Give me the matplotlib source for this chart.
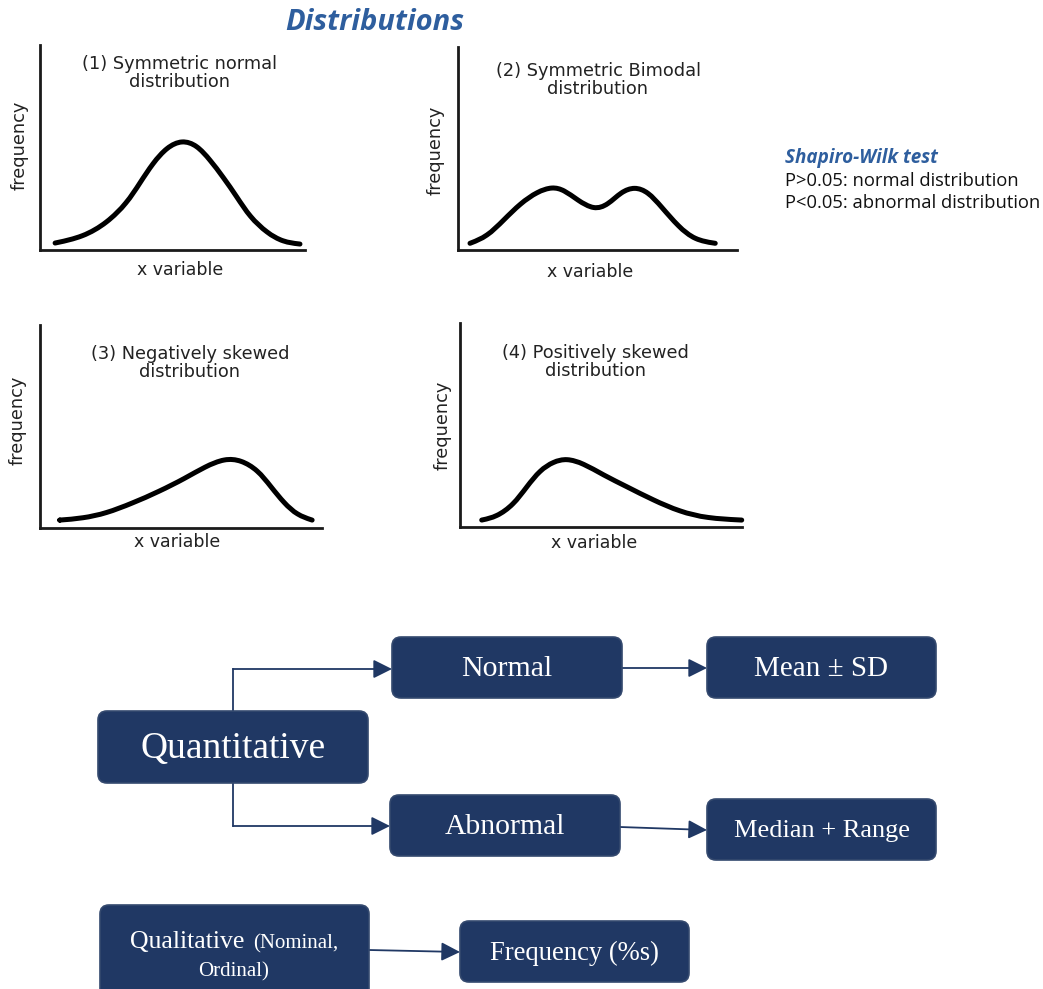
import matplotlib
matplotlib.use("Agg")
import matplotlib.pyplot as plt
import numpy as np
from matplotlib.patches import FancyBboxPatch, PathPatch
from matplotlib.path import Path

# ---------------- data ----------------
panel_titles = ["(1) Symmetric normal\ndistribution",
                "(2) Symmetric Bimodal\ndistribution",
                "(3) Negatively skewed\ndistribution",
                "(4) Positively skewed\ndistribution"]
x_label = "x variable"
y_label = "frequency"

normal_x = [0.57, 1.62, 2.53, 3.28, 3.77, 4.26, 4.79, 5.36, 5.92, 6.42, 6.91, 7.43, 7.92, 8.57, 9.17, 9.81]
normal_y = [0.34, 0.63, 1.32, 2.29, 3.27, 4.24, 5.02, 5.37, 5.12, 4.39, 3.56, 2.59, 1.61, 0.83, 0.39, 0.29]

bimodal_x = [0.43, 1.04, 1.64, 2.24, 2.84, 3.38, 3.80, 4.28, 4.88, 5.37, 5.85, 6.33, 6.81, 7.29, 7.90, 8.49, 9.22]
bimodal_y = [0.33, 0.66, 1.48, 2.30, 2.87, 3.12, 2.96, 2.46, 1.97, 2.22, 2.87, 3.12, 2.87, 2.13, 1.15, 0.49, 0.33]

negskew_x = [0.70, 1.52, 2.34, 3.27, 4.21, 5.15, 5.85, 6.55, 7.13, 7.72, 8.19, 8.66, 9.12, 9.65]
negskew_y = [0.39, 0.48, 0.72, 1.22, 1.79, 2.45, 3.02, 3.43, 3.35, 2.86, 2.03, 1.22, 0.64, 0.39]

posskew_x = [0.77, 1.30, 1.89, 2.37, 2.84, 3.31, 3.78, 4.37, 5.08, 5.91, 6.85, 7.80, 8.75, 9.99]
posskew_y = [0.34, 0.50, 1.08, 1.98, 2.79, 3.20, 3.37, 3.12, 2.55, 1.98, 1.32, 0.75, 0.43, 0.34]

main_title = "Distributions"
test_title = "Shapiro-Wilk test"
test_lines = ["P>0.05: normal distribution", "P<0.05: abnormal distribution"]

box_labels = ["Quantitative", "Normal", "Mean ± SD", "Abnormal", "Median + Range", "Frequency (%s)"]
qual_parts = ["Qualitative", "(Nominal,", "Ordinal)"]

# ---------------- figure ----------------
W, H = 1043, 989
fig = plt.figure(figsize=(W / 100, H / 100), dpi=100)
fig.patch.set_facecolor("white")

bg = fig.add_axes([0, 0, 1, 1])
bg.set_xlim(0, W)
bg.set_ylim(H, 0)
bg.axis("off")

NAVY = "#203864"
BLUE = "#2E5E9E"
INK = "#1a1a1a"
SANS = ["Open Sans", "DejaVu Sans"]


def px_axes(x0, y_axis, x1, y_top):
    return fig.add_axes([x0 / W, 1 - y_axis / H, (x1 - x0) / W, (y_axis - y_top) / H])


def smooth_path(xs, ys):
    """Clamped uniform cubic B-spline drawn as Bezier segments."""
    P = np.column_stack([xs, ys]).astype(float)
    P = np.vstack([P[0], P[0], P, P[-1], P[-1]])
    verts, codes = [], []
    for i in range(1, len(P) - 2):
        a, b, c, d = P[i - 1], P[i], P[i + 1], P[i + 2]
        b0 = (a + 4 * b + c) / 6
        b1 = (2 * b + c) / 3
        b2 = (b + 2 * c) / 3
        b3 = (b + 4 * c + d) / 6
        if not verts:
            verts.append(b0)
            codes.append(Path.MOVETO)
        verts += [b1, b2, b3]
        codes += [Path.CURVE4] * 3
    return Path(verts, codes)


panels = [
    ((40, 250, 305, 45), normal_x, normal_y, (179, 73), (180, 270), (20, 145)),
    ((458, 250, 737, 47), bimodal_x, bimodal_y, (598, 80), (590, 272), (436, 150)),
    ((40, 528, 322, 325), negskew_x, negskew_y, (190, 363), (177, 542), (18, 420)),
    ((460, 527, 742, 323), posskew_x, posskew_y, (595, 362), (594, 543), (443, 425)),
]

for k, (box, xs, ys, tpos, xpos, ypos) in enumerate(panels):
    ax = px_axes(*box)
    ax.set_xlim(0, 10)
    ax.set_ylim(0, 10)
    ax.set_facecolor("none")
    for s in ["top", "right"]:
        ax.spines[s].set_visible(False)
    for s in ["left", "bottom"]:
        ax.spines[s].set_linewidth(2.0)
        ax.spines[s].set_color(INK)
    ax.set_xticks([])
    ax.set_yticks([])
    patch = PathPatch(smooth_path(xs, ys), facecolor="none", edgecolor="black",
                      lw=3.6, capstyle="round", joinstyle="round", clip_on=False)
    ax.add_patch(patch)

    bg.text(tpos[0], tpos[1], panel_titles[k], ha="center", va="center",
            fontsize=12.8, color="#222222", family="DejaVu Sans", linespacing=1.05)
    bg.text(xpos[0], xpos[1], x_label, ha="center", va="center",
            fontsize=12.5, color="#222222", family="DejaVu Sans")
    bg.text(ypos[0], ypos[1], y_label, ha="center", va="center", rotation=90,
            fontsize=12.8, color="#222222", family="DejaVu Sans")

# titles / notes
bg.text(375, 22, main_title, ha="center", va="center", fontsize=21,
        fontweight="bold", fontstyle="italic", color=BLUE, family=SANS)
bg.text(785, 158, test_title, ha="left", va="center", fontsize=13.6,
        fontweight="bold", fontstyle="italic", color=BLUE, family=SANS)
for i, line in enumerate(test_lines):
    bg.text(785, 181 + i * 22.5, line, ha="left", va="center", fontsize=13.2,
            color="#111111", family=SANS)

# ---------------- flowchart ----------------
def draw_box(x0, y0, x1, y1, r=9):
    p = FancyBboxPatch((x0, y0), x1 - x0, y1 - y0,
                       boxstyle=f"round,pad=0,rounding_size={r}",
                       facecolor=NAVY, edgecolor="#34496e", lw=1.2, zorder=3)
    bg.add_patch(p)


def arrow(x0, y0, x1, y1):
    bg.annotate("", xy=(x1, y1), xytext=(x0, y0),
                arrowprops=dict(arrowstyle="-|>,head_length=0.42,head_width=0.21",
                                mutation_scale=27, color=NAVY, lw=1.3,
                                shrinkA=0, shrinkB=0), zorder=2)


boxes = {
    "Quantitative": (98, 711, 368, 783, 27),
    "Normal": (392, 637, 622, 698, 21.5),
    "Mean ± SD": (707, 637, 936, 698, 21),
    "Abnormal": (390, 795, 620, 856, 21.3),
    "Median + Range": (707, 799, 936, 860, 19),
    "Frequency (%s)": (460, 921, 689, 982, 19.2),
}
for lab in box_labels:
    x0, y0, x1, y1, fs = boxes[lab]
    draw_box(x0, y0, x1, y1)
    bg.text((x0 + x1) / 2, (y0 + y1) / 2 + 2, lab, ha="center", va="center",
            fontsize=fs, color="white", family="Liberation Serif", zorder=4)

# qualitative box (extends beyond bottom edge)
draw_box(100, 905, 369, 1000)
bg.text(130, 948, qual_parts[0], ha="left", va="baseline", fontsize=18.5,
        color="white", family="Liberation Serif", zorder=4)
bg.text(253, 948, qual_parts[1], ha="left", va="baseline", fontsize=15,
        color="white", family="Liberation Serif", zorder=4)
bg.text(234, 976, qual_parts[2], ha="center", va="baseline", fontsize=15,
        color="white", family="Liberation Serif", zorder=4)

# connectors
bg.plot([233, 233], [711, 669], color=NAVY, lw=1.3, zorder=2)
arrow(233, 669, 392, 669)
bg.plot([233, 233], [783, 826], color=NAVY, lw=1.3, zorder=2)
arrow(233, 826, 390, 826)
arrow(622, 668, 707, 668)
arrow(620, 827, 707, 830)
arrow(369, 950, 460, 952)

fig.savefig("out.png", dpi=100, facecolor="white")
